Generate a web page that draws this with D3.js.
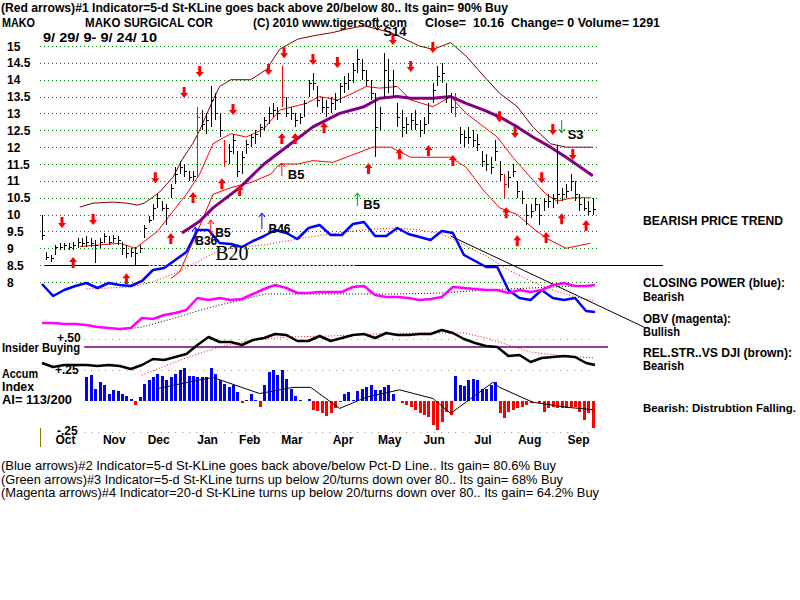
<!DOCTYPE html>
<html>
<head>
<meta charset="utf-8">
<script src="https://cdn.jsdelivr.net/npm/d3@7"></script>
<style>
  body { margin: 0; background: #fff; }
  text { font-family: "Liberation Sans", Arial, sans-serif; white-space: pre; }
</style>
</head>
<body>
<div id="chart"></div>
<script>
// MAKO daily chart, 9/29/09 - 9/24/10 (250 sessions, bars drawn every 2nd session)
var priceTicks = [15, 14.5, 14, 13.5, 13, 12.5, 12, 11.5, 11, 10.5, 10, 9.5, 9, 8.5, 8];
var months = ["Oct", "Nov", "Dec", "Jan", "Feb", "Mar", "Apr", "May", "Jun", "Jul", "Aug", "Sep"];
var monthStart = [2, 24, 44, 66, 85, 104, 127, 148, 168, 190, 211, 233];

var barHigh = [10.0,8.9,8.8,9.1,9.15,9.15,9.15,9.2,9.3,9.3,9.35,9.3,9.25,9.3,9.45,9.35,9.4,9.35,9.2,9.1,
  9.0,9.05,9.1,9.7,9.95,10.3,10.6,10.4,10.3,10.9,11.4,11.6,11.5,11.3,11.3,13.2,13.1,13.0,13.8,13.6,
  13.0,12.2,12.1,12.4,11.9,11.9,12.2,12.4,12.5,12.7,12.9,13.2,13.3,13.2,14.4,13.5,13.2,13.0,13.0,13.4,
  14.0,14.2,13.8,13.5,13.4,13.5,13.6,13.9,14.1,14.2,14.5,14.9,14.6,14.3,14.0,13.6,13.2,14.8,14.6,14.3,
  13.3,13.1,12.9,13.0,13.1,12.8,12.9,13.3,13.9,14.4,14.5,13.9,13.6,13.6,12.6,12.5,12.6,12.5,12.4,11.9,
  11.8,11.7,12.2,11.6,11.2,11.3,11.5,11.0,10.7,10.3,10.3,10.5,10.3,10.5,10.6,10.6,12.05,10.8,10.9,11.2,
  11.0,10.6,10.5,10.4,10.5];
var barLow = [9.25,8.65,8.6,8.8,8.95,8.95,8.95,8.95,9.0,9.05,9.05,9.05,8.55,9.0,9.15,9.1,9.15,9.1,8.8,8.7,
  8.75,8.5,8.85,9.3,9.75,9.85,10.2,10.1,9.7,10.5,10.9,11.2,11.1,11.0,11.0,11.1,12.5,12.4,12.6,12.8,
  12.3,11.4,11.5,11.8,11.1,11.2,11.8,12.0,12.1,12.3,12.5,12.7,12.9,12.8,13.2,12.9,12.8,12.6,12.7,12.9,
  13.5,13.7,13.2,13.0,12.9,13.0,13.1,13.3,13.6,13.7,13.9,14.2,14.0,13.8,13.4,11.7,12.5,13.5,13.6,13.5,
  12.6,12.3,12.4,12.5,12.5,12.3,12.4,12.7,13.3,13.8,13.9,13.3,13.0,12.9,12.1,12.0,12.1,12.0,11.9,11.4,
  11.3,11.2,11.6,11.0,10.5,10.8,11.1,10.5,10.3,9.7,9.9,10.1,9.7,10.1,10.2,10.2,10.3,10.4,10.5,10.7,
  10.4,10.1,10.1,10.0,10.0];
var barClose = [9.4,8.75,8.7,9.05,9.05,9.1,9.05,9.1,9.2,9.15,9.2,9.15,9.1,9.2,9.35,9.2,9.3,9.25,9.0,8.85,
  8.9,8.85,9.0,9.6,9.85,10.2,10.5,10.2,10.2,10.8,11.2,11.4,11.3,11.1,11.15,12.9,12.7,12.8,13.4,13.0,
  12.5,11.6,11.9,12.2,11.3,11.7,12.1,12.3,12.4,12.6,12.8,13.0,13.1,13.0,13.5,13.0,13.0,12.8,12.9,13.3,
  13.9,13.9,13.4,13.2,13.2,13.3,13.4,13.8,13.9,14.0,14.3,14.6,14.3,14.0,13.6,12.6,13.0,14.3,14.0,13.8,
  12.9,12.6,12.7,12.8,12.7,12.5,12.7,13.0,13.7,14.1,14.2,13.5,13.2,13.2,12.4,12.3,12.3,12.2,12.1,11.6,
  11.5,11.4,11.9,11.2,10.9,11.1,11.3,10.7,10.5,10.0,10.1,10.3,10.0,10.4,10.4,10.5,10.6,10.6,10.7,11.0,
  10.6,10.3,10.2,10.1,10.16];
var redBars = [35, 41, 54, 93, 104];

// price-panel overlays (session, price)
var upperBandDay = [17,23,32,38,43,46,50,53,59,63,68,71,77,80,85,94,101,107,115,122,131,137,145,157,170,176,184,191,199,206,214,221,229,236,248];
var upperBand = [10.22,10.34,10.37,10.34,10.28,10.34,10.52,10.67,11.11,11.62,12.12,12.5,13.4,13.8,14.0,14.0,14.3,14.9,15.2,15.3,15.4,15.5,15.6,15.4,15.0,14.9,15.1,14.7,14.1,13.6,13.2,12.6,12.1,12.0,12.0];
var midBandDay = [17,26,35,42,46,52,59,65,71,77,85,92,100,107,119,125,133,140,146,152,160,166,176,184,191,199,205,212,220,227,232,239,247];
var midBand = [9.05,9.1,9.15,9.0,9.2,9.5,10.1,10.6,11.2,12.1,12.4,12.3,12.55,13.1,13.3,13.5,13.4,13.6,13.8,13.75,13.8,13.4,13.2,13.5,13.0,12.6,12.3,11.7,11.1,10.6,10.4,10.5,10.5];
var lowerBandDay = [58,62,70,77,85,94,103,107,115,122,131,137,149,157,166,176,184,191,199,206,214,221,227,236,247];
var lowerBand = [8.1,8.3,9.5,10.6,10.8,10.95,11.2,11.5,11.5,11.6,11.55,11.7,12.0,12.0,11.7,11.7,11.7,11.4,10.7,10.2,10.0,9.6,9.3,9.0,9.15];
var ma65Day = [63,71,77,89,100,112,122,134,145,152,160,166,176,184,191,199,206,214,221,229,236,248];
var ma65 = [9.45,9.8,10.2,10.8,11.5,12.1,12.6,13.0,13.2,13.45,13.5,13.45,13.45,13.5,13.3,13.1,12.9,12.6,12.3,12.0,11.7,11.15];

var downArrowDay = [9,23,51,64,71,86,102,109,122,133,158,166,176,206,213,225,230,239];
var downArrowPrice = [9.6,9.69,10.93,13.46,14.08,12.95,14.14,14.64,14.44,14.35,15.03,14.23,14.79,12.74,12.27,10.93,12.36,11.62];
var upArrowDay = [14,38,58,68,81,89,108,114,127,147,161,174,185,209,214,227,234,245];
var upArrowPrice = [8.74,8.26,9.45,10.67,11.08,10.88,12.42,12.42,12.74,11.53,11.97,12.06,11.77,10.22,9.39,9.48,10.04,9.84];
var priceSignals = [
  {day: 108, price: 11.53, dir: 1, color: "#ff0000", label: "B5"},
  {day: 142, price: 10.64, dir: 1, color: "#00a000", label: "B5"},
  {day: 151, price: 15.47, dir: -1, color: "#000000", label: "S14"},
  {day: 234, price: 12.42, dir: -1, color: "#00a000", label: "S3"}
];

// indicator panels, sampled every 5 sessions
var sampleDays = [0,5,10,15,20,25,30,35,40,45,50,55,60,65,70,75,80,85,90,95,100,105,110,115,120,125,
  130,135,140,145,150,155,160,165,170,175,180,185,190,195,200,205,210,215,220,225,230,235,240,245,249];
var closingPower = [31,19,25,29,32,27,32,30,29,34,45,47,55,63,85,85,72,71,68,74,79,85,82,76,87,90,
  80,80,91,93,79,79,87,81,78,75,84,82,60,54,48,48,25,17,15,25,17,15,17,4,3];
var cpMaDay = [20,30,40,50,60,70,80,90,100,110,120,130,140,150,160,170,180,190,200,210,220,230,240,249];
var cpMa = [26,27,28,33,42,53,65,68,70,74,78,81,84,86,87,85,81,70,59,45,34,25,18,14];
var cpSignals = [
  {day: 69, value: 88, color: "#0000ff"},
  {day: 76, value: 95, color: "#ff0000"},
  {day: 99, value: 102, color: "#0000ff"}
];
var cpLabels = [
  {day: 78, value: 78, text: "B5", size: 12},
  {day: 69, value: 70, text: "B36", size: 12},
  {day: 78, value: 55, text: "B20", size: 20},
  {day: 102, value: 82, text: "B46", size: 12}
];
var cpTrend = {day0: 184, value0: 79, day1: 271, value1: -12};

var obv = [17,17,16,16,15,13,12,11,12,22,21,25,27,30,42,40,42,40,41,46,51,55,52,47,47,48,
  48,48,53,54,45,43,43,42,40,41,43,53,52,51,50,50,47,50,48,50,55,57,54,54,55];
var obvMaDay = [35,45,60,70,80,90,100,120,140,160,180,200,220,240,249];
var obvMa = [10,13,22,29,35,40,46,46,46,46,47,50,52,54,55];

var relStr = [17,13,15,15,15,14,15,14,11,15,21,20,23,26,35,43,38,38,35,40,42,46,45,39,39,44,
  39,42,45,46,42,47,45,45,46,46,50,47,41,37,34,33,24,25,18,22,23,24,23,17,15];
var rsMaDay = [45,60,70,80,90,100,110,130,150,170,190,200,210,220,235,249];
var rsMa = [5,18,26,33,38,41,43,44,46,47,47,42,35,28,24,22];

// Accumulation index, every 2nd session from session 20
var accumIndex = [0.19,0.21,0.10,0.15,0.13,0.06,0.09,0.08,0.06,0.04,0.02,-0.03,0.03,0.14,0.17,0.19,0.22,0.20,0.17,0.19,
  0.22,0.25,0.27,0.20,0.20,0.19,0.19,0.19,0.27,0.22,0.17,0.14,0.11,0.13,0.07,-0.02,0.01,0.06,0.01,-0.05,
  0.13,0.23,0.25,0.21,0.25,0.18,0.10,0.04,0.01,0.0,0.02,-0.07,-0.08,-0.10,-0.12,-0.10,-0.06,-0.01,0.06,0.07,
  0.01,0.08,0.10,0.11,0.13,0.09,0.09,0.11,0.13,0.06,0.0,-0.02,-0.03,-0.05,-0.07,-0.10,-0.11,-0.13,-0.19,-0.23,
  -0.17,-0.09,-0.11,0.20,0.13,0.12,0.17,0.18,0.17,0.10,0.10,0.13,0.15,-0.10,-0.14,-0.09,-0.07,-0.06,-0.05,-0.03,
  -0.02,0.0,-0.02,-0.09,-0.06,-0.05,-0.06,-0.06,-0.06,-0.05,-0.05,-0.09,-0.15,-0.10,-0.22];
var aiMaDay = [52,60,71,77,98,113,121,134,146,161,176,184,203,206,221,236,248];
var aiMa = [0.10,0.13,0.17,0.19,0.06,0.11,0.11,-0.06,0.03,0.09,0.02,-0.10,0.15,0.11,-0.01,-0.05,-0.07];
var aiLevels = [0.5, 0.25, -0.25];
var insiderLevel = 0.435;
var supportLevel = 8.5;

var width = 800, height = 600;
var svg = d3.select("#chart").append("svg")
    .attr("width", width).attr("height", height)
    .style("background", "#fff");

var x = d3.scaleLinear().domain([0, 249]).range([42, 595]);
var y = d3.scaleLinear().domain([8, 15]).range([282, 46]);
var cpY = d3.scaleLinear().domain([0, 100]).range([315, 215]);
var obvY = d3.scaleLinear().domain([0, 60]).range([340, 280]);
var rsY = d3.scaleLinear().domain([0, 60]).range([380, 320]);
var aiY = d3.scaleLinear().domain([-0.25, 0.5]).range([432, 339]);

function label(px, py, s, o) {
  o = o || {};
  var t = svg.append("text")
      .attr("x", px).attr("y", py)
      .attr("font-size", o.size || 12)
      .attr("font-weight", o.normal ? "normal" : "bold")
      .attr("fill", o.fill || "#000")
      .text(s);
  if (o.w) t.attr("textLength", o.w).attr("lengthAdjust", "spacingAndGlyphs");
  if (o.anchor) t.attr("text-anchor", o.anchor);
  if (o.family) t.style("font-family", o.family);
  return t;
}

function drawLine(days, vals, scale, color, w, dash) {
  var line = d3.line()
      .x(function(d) { return x(d[0]); })
      .y(function(d) { return scale(d[1]); });
  var p = svg.append("path")
      .datum(d3.zip(days, vals))
      .attr("fill", "none")
      .attr("stroke", color)
      .attr("stroke-width", w)
      .attr("stroke-linejoin", "round")
      .attr("d", line);
  if (dash) p.attr("stroke-dasharray", dash);
  return p;
}

// header
label(1, 12, "(Red arrows)#1 Indicator=5-d St-KLine goes back above 20/below 80.. Its gain= 90% Buy", {w: 507});
label(2, 27, "MAKO", {w: 33});
label(85, 27, "MAKO SURGICAL COR", {w: 128});
label(253, 27, "(C) 2010 www.tigersoft.com", {w: 154});
label(425, 27, "Close=  10.16  Change= 0 Volume= 1291", {w: 235});
label(43, 42, "9/ 29/ 9- 9/ 24/ 10", {w: 114});

// price grid + axis labels
svg.append("g").selectAll("line")
  .data(priceTicks).enter().append("line")
    .attr("x1", 40).attr("x2", 598)
    .attr("y1", function(d) { return Math.round(y(d)) + 0.5; })
    .attr("y2", function(d) { return Math.round(y(d)) + 0.5; })
    .attr("stroke", "#008000")
    .attr("stroke-dasharray", "1,3");

svg.append("g").selectAll("text")
  .data(priceTicks).enter().append("text")
    .attr("x", 7)
    .attr("y", function(d) { return y(d) + 4.5; })
    .attr("font-size", 12).attr("font-weight", "bold")
    .text(function(d) { return d; });

// support line at 8.5
var ySup = Math.round(y(supportLevel)) + 0.5;
svg.append("line").attr("x1", 45).attr("x2", x(47)).attr("y1", ySup).attr("y2", ySup)
  .attr("stroke", "#000").attr("stroke-width", 1.2);
svg.append("line").attr("x1", x(47)).attr("x2", x(141)).attr("y1", ySup).attr("y2", ySup)
  .attr("stroke", "#000").attr("stroke-dasharray", "2,2");
svg.append("line").attr("x1", x(141)).attr("x2", 663).attr("y1", ySup).attr("y2", ySup)
  .attr("stroke", "#000").attr("stroke-width", 1.2);

// bands and moving average
drawLine(upperBandDay, upperBand, y, "#800000", 1);
drawLine(midBandDay, midBand, y, "#ff0000", 1);
drawLine(lowerBandDay, lowerBand, y, "#ff0000", 1);
drawLine(ma65Day, ma65, y, "#800080", 3);

// price bars
var bars = svg.append("g").attr("shape-rendering", "crispEdges");
barHigh.forEach(function(h, i) {
  var bx = Math.round(x(i * 2)) + 0.5;
  var col = redBars.indexOf(i) >= 0 ? "#ff0000" : "#000";
  bars.append("line").attr("x1", bx).attr("x2", bx)
    .attr("y1", y(h)).attr("y2", y(barLow[i]))
    .attr("stroke", col);
  bars.append("line").attr("x1", bx).attr("x2", bx + 2.5)
    .attr("y1", Math.round(y(barClose[i])) + 0.5).attr("y2", Math.round(y(barClose[i])) + 0.5)
    .attr("stroke", col);
});

// block arrows
function blockArrow(px, py, dir) {
  var s = dir, h = 11, hw = 4, sw = 1.5, hh = 5;
  var pts = [[px, py], [px + hw, py + s * hh], [px + sw, py + s * hh], [px + sw, py + s * h],
             [px - sw, py + s * h], [px - sw, py + s * hh], [px - hw, py + s * hh]];
  svg.append("path").attr("d", "M" + pts.join("L") + "Z").attr("fill", "#ff0000");
}
downArrowDay.forEach(function(d, i) { blockArrow(x(d), y(downArrowPrice[i]), -1); });
upArrowDay.forEach(function(d, i) { blockArrow(x(d), y(upArrowPrice[i]), 1); });

function thinArrow(px, py, dir, color, len) {
  var s = dir;
  svg.append("path")
    .attr("d", "M" + px + "," + py + "L" + px + "," + (py + s * len) +
               "M" + (px - 3) + "," + (py + s * 4) + "L" + px + "," + py + "L" + (px + 3) + "," + (py + s * 4))
    .attr("fill", "none").attr("stroke", color).attr("stroke-width", 1);
}
priceSignals.forEach(function(sg) {
  var px = x(sg.day), py = y(sg.price);
  thinArrow(px, py, sg.dir, sg.color, 13);
  var ly = sg.dir > 0 ? py + 16 : py + 6;
  label(px + 6, ly, sg.label, {size: 13});
});

// closing power panel
drawLine(cpMaDay, cpMa, cpY, "#ff0000", 1, "1,2");
drawLine(sampleDays, closingPower, cpY, "#0000ff", 2.5);
cpSignals.forEach(function(sg) { thinArrow(x(sg.day), cpY(sg.value), 1, sg.color, 16); });
cpLabels.forEach(function(l) {
  label(x(l.day), cpY(l.value), l.text, l.size > 12 ? {size: l.size, normal: true, family: "Liberation Serif"} : {size: l.size});
});
svg.append("line")
  .attr("x1", x(cpTrend.day0)).attr("y1", cpY(cpTrend.value0))
  .attr("x2", x(cpTrend.day1)).attr("y2", cpY(cpTrend.value1))
  .attr("stroke", "#000").attr("stroke-width", 1);

// OBV
drawLine(obvMaDay, obvMa, obvY, "#000", 1, "1,2");
drawLine(sampleDays, obv, obvY, "#ff00ff", 2.5);

// relative strength + insider line
svg.append("g").selectAll("line")
  .data(aiLevels).enter().append("line")
    .attr("x1", x(19)).attr("x2", 593)
    .attr("y1", function(d) { return Math.round(aiY(d)) + 0.5; })
    .attr("y2", function(d) { return Math.round(aiY(d)) + 0.5; })
    .attr("stroke", "#a08888")
    .attr("stroke-dasharray", "1,6");
svg.append("line")
  .attr("x1", x(19)).attr("x2", 608)
  .attr("y1", aiY(insiderLevel)).attr("y2", aiY(insiderLevel))
  .attr("stroke", "#6a006a").attr("stroke-width", 1.5);
drawLine(rsMaDay, rsMa, rsY, "#ff0000", 1, "1,2");
drawLine(sampleDays, relStr, rsY, "#000", 2.5);

// accumulation index histogram
svg.append("g").attr("shape-rendering", "crispEdges").selectAll("line")
  .data(accumIndex).enter().append("line")
    .attr("x1", function(d, i) { return Math.round(x(20 + i * 2)) + 0.5; })
    .attr("x2", function(d, i) { return Math.round(x(20 + i * 2)) + 0.5; })
    .attr("y1", aiY(0))
    .attr("y2", function(d) { return aiY(d); })
    .attr("stroke", function(d) { return d >= 0 ? "#0000ff" : "#ff0000"; })
    .attr("stroke-width", 3);
drawLine(aiMaDay, aiMa, aiY, "#000", 1);

// left labels of lower panels
label(57, 342, "+.50", {size: 12});
label(2, 352, "Insider Buying", {w: 78});
label(55, aiY(0.25) + 4, "+.25", {size: 12});
label(2, 378, "Accum", {w: 36});
label(2, 391, "Index", {w: 32});
label(2, 404, "AI= 113/200", {w: 70});
label(57, aiY(-0.25) + 3, "-.25", {size: 12});
svg.append("line").attr("x1", 40.5).attr("x2", 40.5).attr("y1", 428).attr("y2", 447)
  .attr("stroke", "#808000");

// month labels
svg.append("g").selectAll("text")
  .data(months).enter().append("text")
    .attr("x", function(d, i) { return x(monthStart[i]) + 19; })
    .attr("y", 444)
    .attr("text-anchor", "middle")
    .attr("font-size", 12).attr("font-weight", "bold")
    .text(function(d) { return d; });

// right side verdicts
label(643, 225, "BEARISH PRICE TREND", {w: 140});
label(643, 287, "CLOSING POWER (blue):", {w: 142});
label(643, 301, "Bearish", {w: 41});
label(643, 323, "OBV (magenta):", {w: 88});
label(643, 336, "Bullish", {w: 37});
label(643, 357, "REL.STR..VS DJI (brown):", {w: 149});
label(643, 370, "Bearish", {w: 41});
label(643, 412, "Bearish: Distrubtion Falling.", {size: 11.5, w: 153});

// footer
label(1, 470, "(Blue arrows)#2 Indicator=5-d St-KLine goes back above/below Pct-D Line.. Its gain= 80.6% Buy", {normal: true, w: 555});
label(1, 484, "(Green arrows)#3 Indicator=5-d St-KLine turns up below 20/turns down over 80.. Its gain= 68% Buy", {normal: true, w: 562});
label(1, 497, "(Magenta arrows)#4 Indicator=20-d St-KLine turns up below 20/turns down over 80.. Its gain= 64.2% Buy", {normal: true, w: 598});
</script>
</body>
</html>
